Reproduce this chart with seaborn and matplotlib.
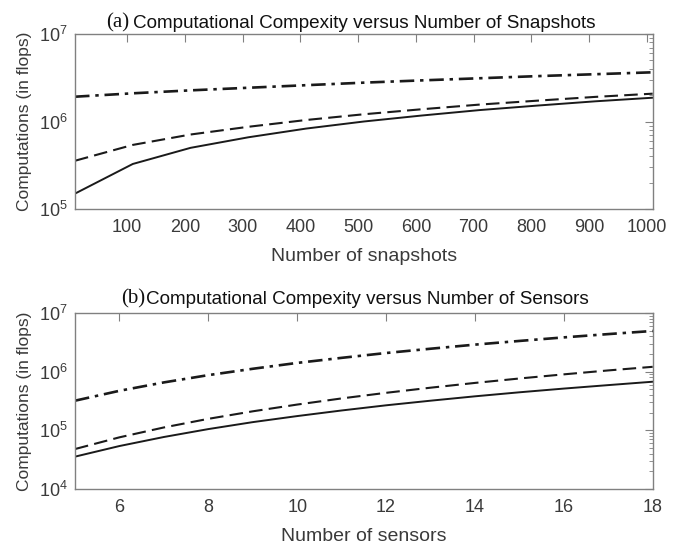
import matplotlib
matplotlib.use("Agg")
import matplotlib.pyplot as plt
import numpy as np
import pandas as pd
import seaborn as sns
from matplotlib.ticker import LogLocator, NullFormatter, FixedLocator

# ---- data: computational cost (flops) ----
snapshots = [10, 110, 210, 310, 410, 510, 610, 710, 810, 910, 1010]
snap_solid = [1.50e5, 3.27e5, 5.00e5, 6.60e5, 8.30e5, 1.00e6, 1.17e6, 1.35e6, 1.52e6, 1.70e6, 1.87e6]
snap_dashed = [3.56e5, 5.40e5, 7.10e5, 8.70e5, 1.04e6, 1.21e6, 1.38e6, 1.56e6, 1.73e6, 1.91e6, 2.08e6]
snap_dashdot = [1.92e6, 2.10e6, 2.27e6, 2.43e6, 2.60e6, 2.78e6, 2.95e6, 3.12e6, 3.30e6, 3.47e6, 3.65e6]

sensors = [5, 6, 7, 8, 9, 10, 11, 12, 13, 14, 15, 16, 17, 18]
sens_solid = [3.56e4, 5.40e4, 7.70e4, 1.05e5, 1.38e5, 1.75e5, 2.18e5, 2.67e5, 3.20e5, 3.80e5, 4.45e5, 5.15e5, 5.90e5, 6.74e5]
sens_dashed = [4.80e4, 7.60e4, 1.12e5, 1.57e5, 2.11e5, 2.75e5, 3.50e5, 4.36e5, 5.33e5, 6.43e5, 7.65e5, 9.00e5, 1.05e6, 1.21e6]
sens_dashdot = [3.20e5, 4.72e5, 6.56e5, 8.73e5, 1.12e6, 1.41e6, 1.72e6, 2.08e6, 2.46e6, 2.89e6, 3.34e6, 3.84e6, 4.37e6, 4.94e6]

snap_ticks = [100, 200, 300, 400, 500, 600, 700, 800, 900, 1000]
sens_ticks = [6, 8, 10, 12, 14, 16, 18]

sns.set_style("white")
plt.rcParams['font.family'] = ['Liberation Sans', 'DejaVu Sans']
plt.rcParams['mathtext.fontset'] = 'custom'
plt.rcParams['mathtext.rm'] = 'Liberation Sans'
plt.rcParams['mathtext.it'] = 'Liberation Sans:italic'
plt.rcParams['mathtext.bf'] = 'Liberation Sans:bold'

W, H = 695, 551
fig = plt.figure(figsize=(W / 100, H / 100), dpi=100)

def box(l, t, r, b):
    return [l / W, 1 - b / H, (r - l) / W, (b - t) / H]

ax1 = fig.add_axes(box(75, 34, 652.7, 209))
ax2 = fig.add_axes(box(75, 313, 652.7, 489))

LINE = '#1a1a1a'
SPINE = '#808080'
TXT = '#3a3a3a'

styles = [
    dict(linestyle='-', linewidth=1.4),
    dict(linestyle=(0, (6.5, 3.0)), linewidth=1.5),
    dict(linestyle=(0, (5.5, 2.2, 1.3, 2.2)), linewidth=1.9),
]

def draw(ax, x, series, xlim, ylim, xticks, xlabel):
    for ys, st in zip(series, styles):
        sns.lineplot(x=x, y=ys, ax=ax, color=LINE, **st)
    ax.set_yscale('log')
    ax.set_xlim(*xlim)
    ax.set_ylim(*ylim)
    ax.xaxis.set_major_locator(FixedLocator(xticks))
    ax.yaxis.set_major_locator(LogLocator(base=10, numticks=10))
    ax.yaxis.set_minor_locator(LogLocator(base=10, subs=np.arange(2, 10), numticks=20))
    ax.yaxis.set_minor_formatter(NullFormatter())
    ax.tick_params(which='both', direction='in', top=True, right=True,
                   color=SPINE, labelcolor=TXT, labelsize=13)
    ax.tick_params(which='major', length=6, width=0.8)
    ax.tick_params(which='minor', length=3, width=0.6)
    ax.tick_params(axis='y', which='major', pad=5)
    ax.tick_params(axis='x', which='major', pad=7)
    for s in ax.spines.values():
        s.set_color(SPINE)
        s.set_linewidth(1.0)
    ax.set_xlabel(xlabel, fontsize=14, color=TXT, labelpad=9)
    ax.set_ylabel('Computations (in flops)', fontsize=12.5, color=TXT, labelpad=5)
    ax.grid(False)

draw(ax1, snapshots, [snap_solid, snap_dashed, snap_dashdot],
     (10, 1010), (1e5, 1e7), snap_ticks, 'Number of snapshots')
draw(ax2, sensors, [sens_solid, sens_dashed, sens_dashdot],
     (5, 18), (1e4, 1e7), sens_ticks, 'Number of sensors')

# titles: serif panel tag followed by sans-serif caption
def title(tag, text, x_left, base_y, gap):
    fig.text(x_left / W, 1 - base_y / H, text, fontsize=13.6, color='#111111',
             ha='left', va='baseline', family=['Liberation Sans', 'DejaVu Sans'])
    fig.text((x_left - gap) / W, 1 - base_y / H, tag, fontsize=15, color='#111111',
             ha='right', va='baseline', family=['Liberation Serif', 'DejaVu Serif'])

title('(a)', 'Computational Compexity versus Number of Snapshots', 133, 27.5, 3.5)
title('(b)', 'Computational Compexity versus Number of Sensors', 146, 303.5, 0.5)

fig.savefig('out.png', dpi=100)
